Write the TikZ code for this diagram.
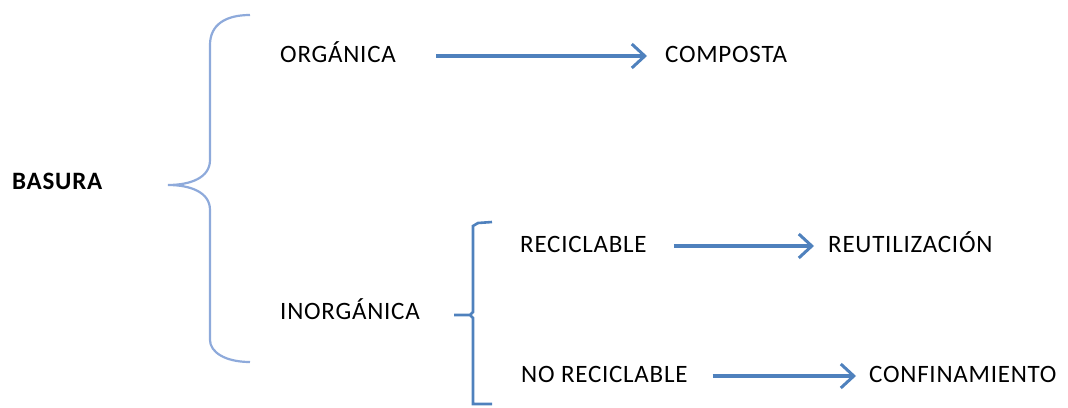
\documentclass[tikz,border=0pt]{standalone}
\usepackage{fontspec}
\setmainfont{Carlito}[LetterSpace=3]
\usetikzlibrary{positioning, arrows.meta, calc}

\definecolor{ofblue}{HTML}{4F81BD}
\definecolor{brlight}{HTML}{8EAADB}

\begin{document}
\begin{tikzpicture}[
    x=1pt, y=-1pt,
    item/.style={anchor=base west, inner sep=0pt, text height=12pt, text depth=0pt, font=\fontsize{25}{29}\selectfont},
    arr/.style={-{Straight Barb[length=13pt, width=24pt, line width=3pt]}, draw=ofblue, line width=3.5pt},
    bigbrace/.style={draw=brlight, line width=2.2pt},
    smallbrace/.style={draw=ofblue, line width=2.6pt}
]
    \useasboundingbox (0,0) rectangle (1068,407);

    % Left column
    \node[item, font=\fontsize{25}{29}\selectfont\bfseries] (basura) at (12,189) {BASURA};
    \node[item] (org) at (280,62) {ORGÁNICA};
    \node[item] (inorg) at (280,319) {INORGÁNICA};

    % Second level
    \node[item] (recic) at (520,252) {RECICLABLE};
    \node[item] (norecic) at (521,382) {NO RECICLABLE};

    % Results
    \node[item] (comp) at (665,62) {COMPOSTA};
    \node[item] (reut) at (828,252) {REUTILIZACIÓN};
    \node[item] (conf) at (869,382) {CONFINAMIENTO};

    % Arrows
    \draw[arr, shorten <=40pt, shorten >=18pt] (org.east) -- (comp.west);
    \draw[arr, shorten <=27pt, shorten >=14pt] (recic.east) -- (reut.west);
    \draw[arr, shorten <=25pt, shorten >=13pt] (norecic.east) -- (conf.west);

    % Big brace
    \draw[bigbrace] (250,15) .. controls (225,15) and (210,25) .. (210,45)
        -- (210,160) .. controls (210,178) and (190,185) .. (168,185)
        .. controls (190,185) and (210,192) .. (210,210)
        -- (210,340) .. controls (210,352) and (225,362) .. (250,362);

    % Small brace
    \draw[smallbrace] (492,222) -- (478,223) -- (473,226) -- (473,312)
        -- (470,315) -- (454,315) -- (470,315) -- (473,318)
        -- (473,404) -- (492,404);

\end{tikzpicture}
\end{document}
